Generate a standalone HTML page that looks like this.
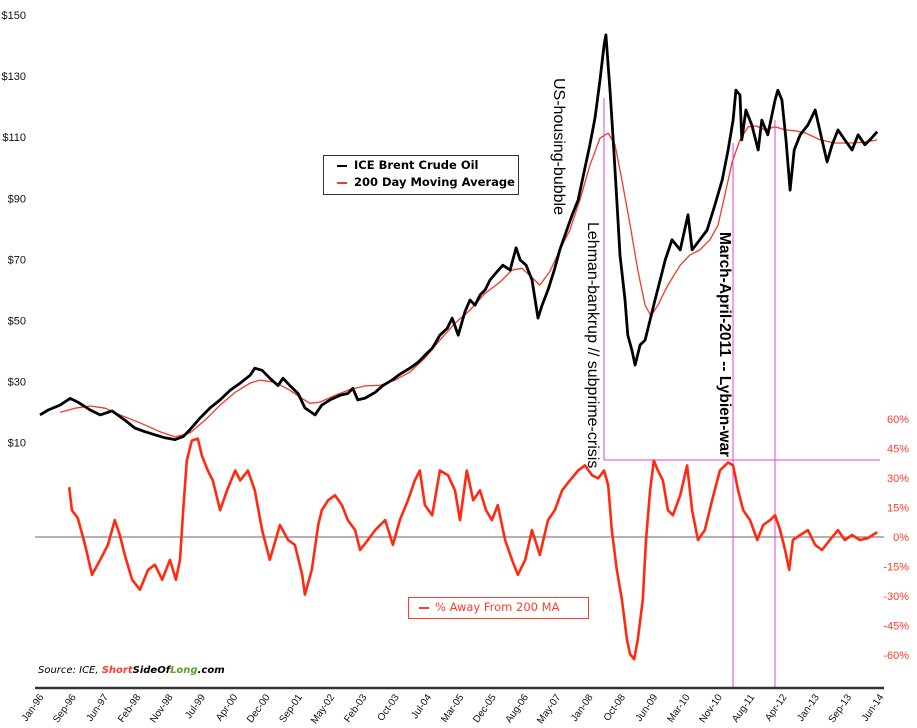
<!DOCTYPE html>
<html><head><meta charset="utf-8"><style>
html,body{margin:0;padding:0;background:#fff;}
svg{display:block;}
text{font-family:"Liberation Sans","DejaVu Sans",sans-serif;}
</style></head><body>
<svg id="chart" width="917" height="728" viewBox="0 0 917 728"></svg>
<script>
const priceYears=[1996.00,1996.18,1996.44,1996.66,1996.83,1997.10,1997.32,1997.58,1997.86,1998.08,1998.30,1998.52,1998.74,1998.96,1999.14,1999.29,1999.51,1999.73,1999.95,2000.17,2000.39,2000.61,2000.71,2000.87,2001.04,2001.22,2001.33,2001.48,2001.66,2001.81,2002.03,2002.18,2002.36,2002.58,2002.75,2002.86,2002.97,2003.13,2003.35,2003.52,2003.72,2003.89,2004.11,2004.29,2004.44,2004.60,2004.77,2004.93,2005.04,2005.17,2005.32,2005.43,2005.54,2005.65,2005.76,2005.87,2006.02,2006.15,2006.31,2006.44,2006.53,2006.66,2006.79,2006.92,2007.01,2007.14,2007.29,2007.40,2007.51,2007.67,2007.80,2007.95,2008.06,2008.17,2008.28,2008.37,2008.41,2008.50,2008.57,2008.65,2008.72,2008.83,2008.89,2008.98,2009.05,2009.16,2009.27,2009.38,2009.49,2009.60,2009.71,2009.86,2010.04,2010.21,2010.30,2010.47,2010.63,2010.80,2010.96,2011.09,2011.20,2011.26,2011.35,2011.39,2011.48,2011.61,2011.75,2011.83,2011.96,2012.12,2012.18,2012.27,2012.36,2012.45,2012.54,2012.67,2012.84,2013.00,2013.15,2013.26,2013.37,2013.50,2013.65,2013.81,2013.94,2014.09,2014.20,2014.36];
const priceValues=[19.1,20.7,22.3,24.5,23.3,20.7,19.1,20.4,17.4,14.8,13.6,12.6,11.6,11.0,12.0,14.3,18.1,21.4,24.0,27.2,29.5,32.1,34.4,33.7,31.1,28.7,31.1,28.7,26.1,21.4,19.1,22.3,24.0,25.5,26.1,27.8,24.0,24.6,26.5,28.7,30.5,32.4,34.4,36.3,38.6,40.9,45.2,47.4,50.8,45.2,52.9,56.7,55.0,58.3,60.0,63.3,65.9,68.1,66.5,73.8,69.8,68.1,63.3,50.8,55.0,60.0,67.1,73.1,77.9,84.6,89.4,99.9,107.5,116.3,128.7,140.2,143.5,125.4,109.1,89.4,71.4,56.8,45.2,40.3,35.4,42.0,43.6,50.2,56.8,63.3,69.8,76.4,73.1,84.6,73.1,76.4,79.6,87.8,96.0,105.8,115.6,125.4,123.8,109.1,118.9,114.0,105.8,115.6,110.8,122.2,125.4,122.2,109.1,92.7,105.8,110.8,114.0,118.9,109.1,101.9,107.5,112.4,109.1,105.8,110.8,107.5,109.1,111.8];
const maYears=[1996.44,1996.77,1997.10,1997.43,1997.75,1998.19,1998.63,1998.96,1999.29,1999.62,1999.95,2000.28,2000.61,2000.82,2001.15,2001.48,2001.70,2001.92,2002.14,2002.47,2002.80,2003.13,2003.46,2003.79,2004.11,2004.44,2004.77,2005.10,2005.43,2005.76,2006.09,2006.35,2006.57,2006.75,2006.96,2007.18,2007.40,2007.62,2007.84,2008.06,2008.28,2008.46,2008.61,2008.76,2008.94,2009.11,2009.27,2009.40,2009.55,2009.77,2010.04,2010.25,2010.47,2010.69,2010.87,2011.02,2011.18,2011.35,2011.53,2011.70,2011.90,2012.12,2012.34,2012.56,2012.78,2013.11,2013.43,2013.76,2014.09,2014.36];
const maValues=[20.0,21.3,22.0,21.3,19.1,16.5,13.6,11.9,13.2,17.4,22.3,26.5,29.5,30.5,29.8,27.2,24.9,22.9,23.3,25.5,27.4,28.6,28.8,30.5,33.1,37.7,43.6,49.1,53.4,58.9,62.6,66.5,67.1,64.6,61.6,66.0,73.1,79.6,89.4,100.8,109.7,111.3,107.5,96.0,81.3,66.5,55.0,51.5,55.0,61.6,68.1,71.4,73.1,76.4,81.3,91.1,101.9,109.1,113.4,113.7,112.4,113.4,112.4,112.1,111.4,109.1,108.1,108.1,108.4,109.1];
const pctYears=[1996.64,1996.70,1996.83,1996.99,1997.14,1997.32,1997.49,1997.64,1997.75,1997.86,1998.02,1998.19,1998.37,1998.52,1998.68,1998.85,1998.98,1999.07,1999.14,1999.22,1999.33,1999.46,1999.55,1999.68,1999.79,1999.95,2000.10,2000.28,2000.39,2000.56,2000.71,2000.87,2001.04,2001.26,2001.44,2001.59,2001.75,2001.81,2001.96,2002.10,2002.18,2002.32,2002.47,2002.62,2002.75,2002.91,2003.02,2003.19,2003.35,2003.57,2003.74,2003.89,2004.07,2004.22,2004.33,2004.44,2004.60,2004.77,2004.95,2005.10,2005.21,2005.36,2005.50,2005.65,2005.78,2005.91,2006.04,2006.20,2006.35,2006.48,2006.64,2006.79,2006.96,2007.14,2007.29,2007.45,2007.62,2007.80,2007.95,2008.11,2008.24,2008.37,2008.46,2008.54,2008.65,2008.76,2008.87,2008.94,2009.03,2009.11,2009.22,2009.29,2009.38,2009.46,2009.55,2009.66,2009.77,2009.88,2010.04,2010.19,2010.30,2010.43,2010.58,2010.74,2010.91,2011.09,2011.20,2011.31,2011.42,2011.57,2011.73,2011.86,2012.01,2012.12,2012.23,2012.34,2012.43,2012.51,2012.67,2012.84,2013.00,2013.15,2013.32,2013.50,2013.65,2013.81,2013.98,2014.16,2014.36];
const pctValues=[25.3,13.6,9.6,-4.0,-19.2,-11.6,-4.0,8.6,1.0,-9.1,-21.7,-26.8,-16.7,-14.1,-21.7,-11.6,-21.7,-11.6,13.6,38.9,49.0,50.0,41.4,33.8,28.8,13.6,23.7,33.8,28.8,33.8,23.7,3.5,-11.6,6.1,-1.5,-4.0,-19.2,-29.3,-16.7,6.1,13.6,18.7,21.2,16.2,8.6,3.5,-6.6,-1.5,3.5,8.6,-4.0,8.6,18.7,28.8,33.8,16.2,11.1,33.8,31.3,23.7,8.6,33.8,18.7,23.7,13.6,8.6,16.2,-1.5,-11.6,-19.2,-11.6,3.5,-9.1,8.6,13.6,23.7,28.8,33.8,36.4,31.3,29.8,33.8,26.3,3.5,-16.7,-31.8,-52.0,-59.6,-62.1,-52.0,-31.8,-1.5,23.7,38.9,33.8,28.8,13.6,11.1,21.2,36.4,13.6,-1.5,3.5,18.7,33.8,37.9,36.4,23.7,13.6,8.6,-1.5,6.1,8.6,11.1,3.5,-6.6,-16.7,-1.5,1.0,3.5,-4.0,-6.6,-1.5,3.5,-1.5,1.0,-1.5,-0.5,2.5];
const priceTicks=[150,130,110,90,70,50,30,10];
const pctTicks=[60,45,30,15,0,-15,-30,-45,-60];
const dateLabels=["Jan-96","Sep-96","Jun-97","Feb-98","Nov-98","Jul-99","Apr-00","Dec-00","Sep-01","May-02","Feb-03","Oct-03","Jul-04","Mar-05","Dec-05","Aug-06","May-07","Jan-08","Oct-08","Jun-09","Mar-10","Nov-10","Aug-11","Apr-12","Jan-13","Sep-13","Jun-14"];

const NS="http://www.w3.org/2000/svg";
const svg=document.getElementById('chart');
function xS(t){return 40+(t-1996)*45.6;}
function yP(v){return 15+(150-v)*3.055;}
function yR(p){return 537-p*1.967;}
function mk(tag,attrs,parent){const e=document.createElementNS(NS,tag);for(const k in attrs)e.setAttribute(k,attrs[k]);(parent||svg).appendChild(e);return e;}
function pathD(xs,vs,yf){return xs.map((t,i)=>(i?'L':'M')+xS(t).toFixed(1)+','+yf(vs[i]).toFixed(1)).join(' ');}

let z=mk('line',{x1:35,x2:884,y1:yR(0),y2:yR(0),stroke:'#666','stroke-width':1});



let m1=mk('line',{x1:604,x2:604,y1:98,y2:460,stroke:'#e040e0','stroke-width':1});


let m2=mk('line',{x1:604,x2:880,y1:460,y2:460,stroke:'#e040e0','stroke-width':1});


let m3=mk('line',{x1:733,x2:733,y1:143,y2:688,stroke:'#e040e0','stroke-width':1});


let m4=mk('line',{x1:775,x2:775,y1:120,y2:688,stroke:'#e040e0','stroke-width':1});



let ma=mk('path',{d:pathD(maYears,maValues,yP),fill:'none',stroke:'#f03a2a','stroke-width':1.3,'stroke-linejoin':'round'});


let pr=mk('path',{d:pathD(priceYears,priceValues,yP),fill:'none',stroke:'#000','stroke-width':2.8,'stroke-linejoin':'round'});


let pc=mk('path',{d:pathD(pctYears,pctValues,yR),fill:'none',stroke:'#ff2a10','stroke-width':2.6,'stroke-linejoin':'round'});



priceTicks.forEach(v=>{
  const t=mk('text',{x:26,y:yP(v)+4,'text-anchor':'end','font-size':11,fill:'#111'});
  t.textContent='$'+v;
  
  
});
pctTicks.forEach(p=>{
  const t=mk('text',{x:909,y:yR(p)+4,'text-anchor':'end','font-size':11,fill:'#ff3b2a'});
  t.textContent=p+'%';
  
  
});
let ax=mk('line',{x1:35,x2:884,y1:688,y2:688,stroke:'#333','stroke-width':2.5});


dateLabels.forEach((d,i)=>{
  const x=40+i*(840/(dateLabels.length-1));
  const t=mk('text',{x:x+4,y:697,'text-anchor':'end','font-size':10,fill:'#111',transform:'rotate(-55 '+(x+4)+' 697)'});
  t.textContent=d;
  
  
});
</script>
<div style="position:absolute;left:0;top:0;width:917px;height:728px;pointer-events:none;font-family:'DejaVu Sans','Liberation Sans',sans-serif;">
  <div style="position:absolute;left:323px;top:155px;width:196px;height:40px;border:1px solid #333;box-sizing:border-box;font-size:11.5px;font-weight:bold;">
    <div style="position:absolute;left:13px;top:2px;white-space:nowrap;"><span style="display:inline-block;width:10px;height:2px;background:#000;vertical-align:middle;margin-right:7px;"></span>ICE Brent Crude Oil</div>
    <div style="position:absolute;left:13px;top:19px;white-space:nowrap;"><span style="display:inline-block;width:10px;height:2px;background:#f03a2a;vertical-align:middle;margin-right:7px;"></span>200 Day Moving Average</div>
  </div>
  <div style="position:absolute;left:408px;top:597px;width:181px;height:22px;border:1px solid #ff3b2a;box-sizing:border-box;font-size:11.5px;color:#ff3b2a;white-space:nowrap;padding:2px 0 0 10px;"><span style="display:inline-block;width:10px;height:2px;background:#ff3b2a;vertical-align:middle;margin-right:6px;"></span>% Away From 200 MA</div>
  <div style="position:absolute;left:38px;top:665px;font-size:10px;font-style:italic;white-space:nowrap;">Source: ICE, <b style="color:#ff3b2a">Short</b><b>SideOf</b><b style="color:#5aa02c">Long</b><b>.com</b></div>
  <div style="position:absolute;left:549px;top:78px;writing-mode:vertical-rl;font-family:'Liberation Sans',sans-serif;font-size:16px;white-space:nowrap;">US-housing-bubble</div>
  <div style="position:absolute;left:583px;top:222px;writing-mode:vertical-rl;font-family:'Liberation Sans',sans-serif;font-size:16px;white-space:nowrap;">Lehman-bankrup // subprime-crisis</div>
  <div style="position:absolute;left:715px;top:232px;writing-mode:vertical-rl;font-family:'Liberation Sans',sans-serif;font-size:15.5px;font-weight:bold;white-space:nowrap;">March-April-2011 -- Lybien-war</div>
</div>
</body></html>
